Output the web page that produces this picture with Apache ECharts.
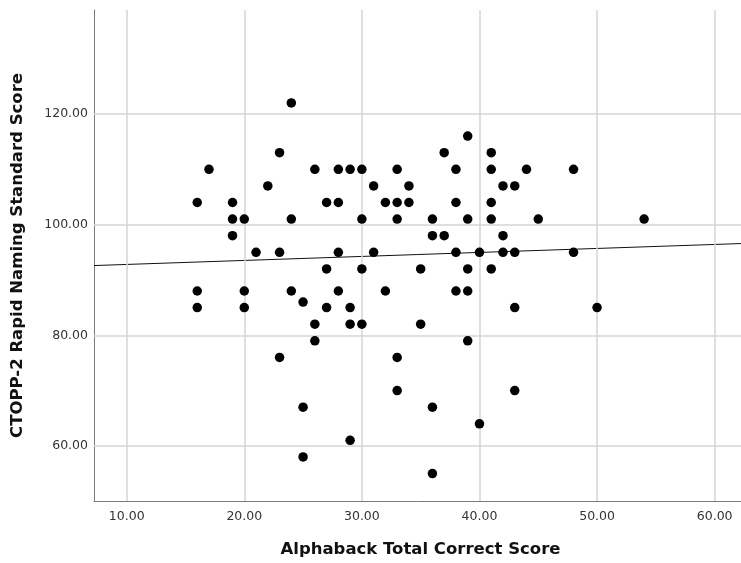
<!DOCTYPE html>
<html>
<head>
<meta charset="utf-8">
<script src="https://cdn.jsdelivr.net/npm/echarts@6/dist/echarts.min.js"></script>
<style>html,body{margin:0;padding:0;background:#fff;}#c{width:741px;height:563px;}</style>
</head>
<body>
<div id="c"></div>
<script>
var alphabackScore = [16,16,16,17,19,19,19,20,20,20,21,22,23,23,23,24,24,24,25,25,25,26,26,26,27,27,27,28,28,28,28,29,29,29,29,30,30,30,30,31,31,32,32,33,33,33,33,33,34,34,35,35,36,36,36,36,37,37,38,38,38,38,39,39,39,39,39,40,40,41,41,41,41,41,42,42,42,43,43,43,43,44,45,48,48,50,54];
var rapidNamingScore = [104,88,85,110,104,101,98,101,88,85,95,107,113,95,76,122,101,88,86,67,58,110,82,79,104,92,85,110,104,95,88,110,85,82,61,110,101,92,82,107,95,104,88,110,104,101,76,70,107,104,92,82,101,98,67,55,113,98,110,104,95,88,116,101,92,88,79,95,64,113,110,104,101,92,107,98,95,107,95,85,70,110,101,110,95,85,101];
var xTickValues = [10,20,30,40,50,60];
var yTickValues = [60,80,100,120];
var xRange = [7.22, 62.24];
var yRange = [50.04, 138.8];
// fit line: y = intercept + slope * x
var fitIntercept = 92.08;
var fitSlope = 0.0723;
var xTitle = 'Alphaback Total Correct Score';
var yTitle = 'CTOPP-2 Rapid Naming Standard Score';

var points = alphabackScore.map(function(x,i){return [x, rapidNamingScore[i]];});
var fitLine = xRange.map(function(x){return [x, fitIntercept + fitSlope*x];});

var gridColor = '#d4d4d4';
var chart = echarts.init(document.getElementById('c'), null, {renderer:'canvas'});
chart.setOption({
  animation:false,
  backgroundColor:'#fff',
  grid:{left:94, right:0, top:10, bottom:61, containLabel:false},
  xAxis:{
    type:'value', min:xRange[0], max:xRange[1],
    name:xTitle, nameLocation:'middle', nameGap:40,
    nameTextStyle:{fontFamily:'DejaVu Sans', fontWeight:'bold', fontSize:16.5, color:'#111', padding:[0,0,0,6]},
    axisLine:{show:true, onZero:false, lineStyle:{color:'#7a7a7a', width:1}},
    axisTick:{show:false},
    splitLine:{show:false},
    axisLabel:{customValues:xTickValues, margin:9, fontFamily:'DejaVu Sans', fontSize:12.5, color:'#333',
      formatter:function(v){return v.toFixed(2);}}
  },
  yAxis:{
    type:'value', min:yRange[0], max:yRange[1],
    name:yTitle, nameLocation:'middle', nameGap:68, nameRotate:90,
    nameTextStyle:{fontFamily:'DejaVu Sans', fontWeight:'bold', fontSize:16.5, color:'#111'},
    axisLine:{show:true, onZero:false, lineStyle:{color:'#7a7a7a', width:1}},
    axisTick:{show:false},
    splitLine:{show:false},
    axisLabel:{customValues:yTickValues, margin:6, fontFamily:'DejaVu Sans', fontSize:12.5, color:'#333',
      formatter:function(v){return v.toFixed(2);}}
  },
  series:[
    {
      type:'scatter', data:points, symbol:'circle', symbolSize:9.5,
      itemStyle:{color:'#000', opacity:1}, z:5,
      markLine:{
        silent:true, symbol:['none','none'], label:{show:false},
        lineStyle:{color:gridColor, width:1.5, type:'solid'},
        data: xTickValues.map(function(v){return {xAxis:v};}).concat(yTickValues.map(function(v){return {yAxis:v};}))
      }
    },
    {
      type:'line', data:fitLine, symbol:'none', z:4,
      lineStyle:{color:'#111', width:1}
    }
  ]
});
</script>
</body>
</html>
